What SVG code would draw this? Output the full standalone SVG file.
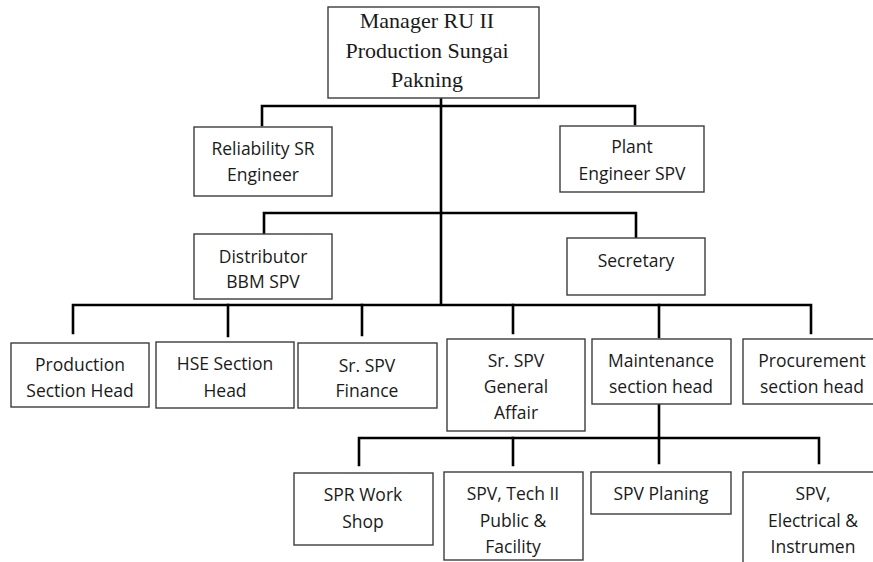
<svg xmlns="http://www.w3.org/2000/svg" width="873" height="562" viewBox="0 0 873 562">
<style>
.box{fill:#fff;stroke:#3c3c3c;stroke-width:1.4}
.t{font-family:"Open Sans","Liberation Sans",sans-serif;font-size:17.5px;fill:#1a1a1a;text-anchor:middle}
.s{font-family:"Liberation Serif","Times New Roman",serif;font-size:22px;fill:#1a1a1a;text-anchor:middle}
.c{fill:none;stroke:#000;stroke-width:2.6;stroke-linecap:square}
</style>
<rect width="873" height="562" fill="#fff"/>
<g id="connectors">
<path class="c" d="M441 98 V303"/>
<path class="c" d="M262 125 V106 H635 V124"/>
<path class="c" d="M264 234 V213 H636 V238"/>
<path class="c" d="M73 333 V305 H811 V333"/>
<path class="c" d="M228 305 V336 M362 305 V335 M513 305 V333 M659 305 V337"/>
<path class="c" d="M659 404 V438"/>
<path class="c" d="M359 465 V438 H819 V463"/>
<path class="c" d="M513 438 V465 M659 438 V463"/>
</g>
<g id="manager">
<rect class="box" x="328" y="7" width="211" height="91"/>
<text class="s" x="427" y="28">Manager RU II</text>
<text class="s" x="427" y="58">Production Sungai</text>
<text class="s" x="427" y="87">Pakning</text>
</g>
<g id="reliability">
<rect class="box" x="194" y="127" width="138" height="69"/>
<text class="t" x="263" y="155">Reliability SR</text>
<text class="t" x="263" y="181">Engineer</text>
</g>
<g id="plant">
<rect class="box" x="560" y="126" width="144" height="66"/>
<text class="t" x="632" y="153">Plant</text>
<text class="t" x="632" y="180">Engineer SPV</text>
</g>
<g id="distributor">
<rect class="box" x="194" y="234" width="138" height="65"/>
<text class="t" x="263" y="263">Distributor</text>
<text class="t" x="263" y="288">BBM SPV</text>
</g>
<g id="secretary">
<rect class="box" x="567" y="238" width="138" height="57"/>
<text class="t" x="636" y="267">Secretary</text>
</g>
<g id="production">
<rect class="box" x="11" y="343" width="138" height="64"/>
<text class="t" x="80" y="371">Production</text>
<text class="t" x="80" y="397">Section Head</text>
</g>
<g id="hse">
<rect class="box" x="156" y="342" width="138" height="66"/>
<text class="t" x="225" y="370">HSE Section</text>
<text class="t" x="225" y="397">Head</text>
</g>
<g id="finance">
<rect class="box" x="298" y="343" width="139" height="65"/>
<text class="t" x="367" y="372">Sr. SPV</text>
<text class="t" x="367" y="397">Finance</text>
</g>
<g id="general-affair">
<rect class="box" x="447" y="339" width="138" height="92"/>
<text class="t" x="516" y="367">Sr. SPV</text>
<text class="t" x="516" y="393">General</text>
<text class="t" x="516" y="419">Affair</text>
</g>
<g id="maintenance">
<rect class="box" x="592" y="339" width="139" height="65"/>
<text class="t" x="661" y="367">Maintenance</text>
<text class="t" x="661" y="393">section head</text>
</g>
<g id="procurement">
<rect class="box" x="743" y="339" width="139" height="65"/>
<text class="t" x="812" y="367">Procurement</text>
<text class="t" x="812" y="393">section head</text>
</g>
<g id="spr-workshop">
<rect class="box" x="294" y="473" width="139" height="72"/>
<text class="t" x="363" y="501">SPR Work</text>
<text class="t" x="363" y="528">Shop</text>
</g>
<g id="tech-ii">
<rect class="box" x="444" y="472" width="139" height="88"/>
<text class="t" x="513" y="500">SPV, Tech II</text>
<text class="t" x="513" y="527">Public &amp;</text>
<text class="t" x="513" y="553">Facility</text>
</g>
<g id="planing">
<rect class="box" x="591" y="472" width="140" height="42"/>
<text class="t" x="661" y="500">SPV Planing</text>
</g>
<g id="electrical">
<rect class="box" x="743" y="472" width="140" height="100"/>
<text class="t" x="813" y="500">SPV,</text>
<text class="t" x="813" y="527">Electrical &amp;</text>
<text class="t" x="813" y="553">Instrumen</text>
</g>
</svg>
